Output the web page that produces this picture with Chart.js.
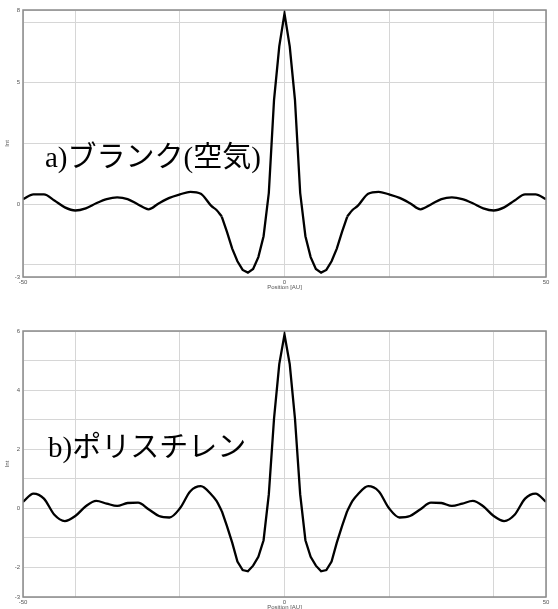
<!DOCTYPE html>
<html>
<head>
<meta charset="utf-8">
<script src="https://cdn.jsdelivr.net/npm/chart.js@4"></script>
<style>
  body { margin: 0; overflow: hidden; background: #fff; }
  canvas { position: absolute; left: 0; }
  #chartA { top: 0; }
  #chartB { top: 320px; }
</style>
</head>
<body>
<canvas id="chartA" width="558" height="300"></canvas>
<canvas id="chartB" width="558" height="300"></canvas>
<script>
// Positions du miroir (AU)
var positions = [
  -50, -48, -46, -44, -42, -40, -38, -36, -34, -32, -30, -28, -26, -24, -22, -20, -18, -16, -14,
  -13, -12, -11, -10, -9, -8, -7, -6, -5, -4, -3, -2, -1, 0, 1, 2, 3, 4, 5, 6, 7, 8, 9, 10, 11, 12, 13,
  14, 16, 18, 20, 22, 24, 26, 28, 30, 32, 34, 36, 38, 40, 42, 44, 46, 48, 50
];

// Interférogramme a) : blanc (air)
var intBlanc = [
  0.21, 0.40, 0.40, 0.15, -0.13, -0.26, -0.17, 0.04, 0.21, 0.28, 0.21, -0.01, -0.21, 0.04, 0.26, 0.40, 0.51, 0.43, -0.07,
  -0.24, -0.51, -1.14, -1.83, -2.35, -2.71, -2.82, -2.67, -2.18, -1.32, 0.46, 4.3, 6.5, 7.85, 6.5, 4.3, 0.46, -1.32, -2.18, -2.67, -2.82, -2.71, -2.35, -1.83, -1.14, -0.51, -0.24,
  -0.07, 0.43, 0.51, 0.40, 0.26, 0.04, -0.21, -0.01, 0.21, 0.28, 0.21, 0.04, -0.17, -0.26, -0.13, 0.15, 0.40, 0.40, 0.21
];

// Interférogramme b) : polystyrène
var intPoly = [
  0.22, 0.50, 0.33, -0.22, -0.43, -0.26, 0.07, 0.25, 0.16, 0.08, 0.18, 0.19, -0.03, -0.26, -0.31, 0.0, 0.58, 0.75, 0.47,
  0.25, -0.09, -0.6, -1.16, -1.8, -2.09, -2.13, -1.94, -1.64, -1.08, 0.47, 3.04, 4.88, 5.88, 4.88, 3.04, 0.47, -1.08, -1.64, -1.94, -2.13, -2.09, -1.8, -1.16, -0.6, -0.09, 0.25,
  0.47, 0.75, 0.58, 0.0, -0.31, -0.26, -0.03, 0.19, 0.18, 0.08, 0.16, 0.25, 0.07, -0.26, -0.43, -0.22, 0.33, 0.50, 0.22
];

// Graduations
var xTicks = [-50, -40, -20, 0, 20, 40, 50];
var xLabels = [-50, 0, 50];
var yTicksA = [-3, -2.5, 0, 2.5, 5, 7.5, 8];
var yLabelsA = [-3, 0, 5, 8];
var yTicksB = [-3, -2, -1, 0, 1, 2, 3, 4, 5, 6];
var yLabelsB = [-3, -2, 0, 2, 4, 6];

var titres = ["a)ブランク(空気)", "b)ポリスチレン"];

// au-delà de cette position la courbe est lissée, en deçà le pic reste anguleux
var limitePic = 12;

// Cadre gris autour de la zone de tracé + étiquette de la courbe
const cadre = {
  id: "cadre",
  afterDatasetsDraw(chart, args, opts) {
    const ctx = chart.ctx;
    const a = chart.chartArea;
    ctx.save();
    ctx.strokeStyle = "#8a8a8a";
    ctx.lineWidth = 1.5;
    ctx.strokeRect(a.left, a.top, a.right - a.left, a.bottom - a.top);
    ctx.font = '29px "Liberation Serif", "Noto Sans CJK JP"';
    ctx.fillStyle = "#000";
    ctx.textBaseline = "alphabetic";
    ctx.fillText(opts.texte, a.left + opts.dx, a.top + opts.dy);
    ctx.restore();
  },
};

// Fonction pour séparer les ailes (lissées) du pic central (segments droits)
function getPoints(valeurs) {
  var ailes = [];
  var pic = [];
  positions.forEach((p, i) => {
    if (Math.abs(p) >= limitePic) ailes.push({ x: p, y: valeurs[i] });
    if (Math.abs(p) <= limitePic) pic.push({ x: p, y: valeurs[i] });
    if (p == 0) ailes.push({ x: 0, y: null });
  });
  return [ailes, pic];
}

// Fonction pour créer un graphique
function loadChart(id, valeurs, ticksY, labelsY, yMin, yMax, pad, texte, dx, dy) {
  var [ailes, pic] = getPoints(valeurs);
  var ctx = document.getElementById(id).getContext("2d");
  return new Chart(ctx, {
    type: "line",
    data: {
      datasets: [
        {
          data: ailes,
          borderColor: "#000",
          borderWidth: 2.3,
          pointRadius: 0,
          cubicInterpolationMode: "monotone",
          spanGaps: false,
        },
        {
          data: pic,
          borderColor: "#000",
          borderWidth: 2.3,
          pointRadius: 0,
          tension: 0,
        },
      ],
    },
    plugins: [cadre],
    options: {
      responsive: false,
      animation: false,
      layout: { padding: pad },
      plugins: {
        legend: { display: false },
        tooltip: { enabled: false },
        cadre: { texte: texte, dx: dx, dy: dy },
      },
      scales: {
        x: {
          type: "linear",
          min: -50,
          max: 50,
          afterBuildTicks: (s) => { s.ticks = xTicks.map((v) => ({ value: v })); },
          afterFit: (s) => { s.height = 23; },
          grid: { color: "#d6d6d6", borderDash: [2, 1], drawTicks: false },
          border: { display: false },
          ticks: {
            padding: 2,
            maxRotation: 0,
            autoSkip: false,
            color: "#555",
            font: { family: "Liberation Sans", size: 6 },
            callback: (v) => (xLabels.includes(v) ? v : ""),
          },
          title: {
            display: true,
            text: "Position [AU]",
            color: "#555",
            font: { family: "Liberation Sans", size: 6 },
            padding: { top: 0, bottom: 9 },
          },
        },
        y: {
          min: yMin,
          max: yMax,
          afterBuildTicks: (s) => { s.ticks = ticksY.map((v) => ({ value: v })); },
          afterFit: (s) => { s.width = 23; },
          grid: { color: "#d6d6d6", borderDash: [2, 1], drawTicks: false },
          border: { display: false },
          ticks: {
            padding: 3,
            autoSkip: false,
            color: "#555",
            font: { family: "Liberation Sans", size: 6 },
            callback: (v) => (labelsY.includes(v) ? v : ""),
          },
          title: {
            display: true,
            text: "Int",
            color: "#555",
            font: { family: "Liberation Sans", size: 6 },
            padding: { top: 4, bottom: 0 },
          },
        },
      },
    },
  });
}

loadChart("chartA", intBlanc, yTicksA, yLabelsA, -3, 8,
  { top: 10, right: 12, left: 0, bottom: 0 }, titres[0], 22, 157);
loadChart("chartB", intPoly, yTicksB, yLabelsB, -3, 6,
  { top: 11, right: 12, left: 0, bottom: 0 }, titres[1], 25, 126);
</script>
</body>
</html>
